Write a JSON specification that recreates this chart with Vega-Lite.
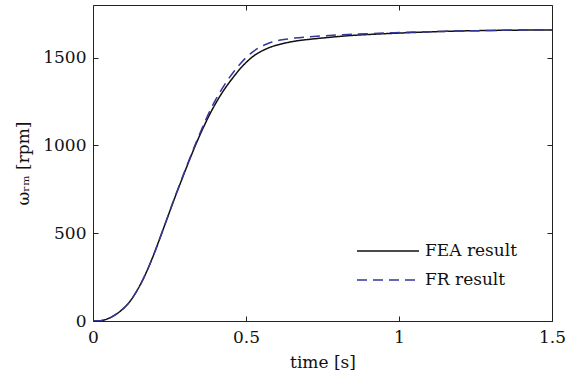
{
  "$schema": "https://vega.github.io/schema/vega-lite/v6.json",
  "autosize": {"type": "none"},
  "padding": {"left": 93, "top": 5, "right": 27, "bottom": 56},
  "width": 459,
  "height": 316,
  "background": "white",
  "config": {
    "view": {"stroke": "#222222", "strokeWidth": 1},
    "font": "DejaVu Serif",
    "axis": {"grid": false, "domain": false, "tickColor": "#222222", "tickSize": -5, "tickWidth": 1, "labelFont": "DejaVu Serif", "labelFontSize": 17, "labelColor": "#111111", "titleFont": "DejaVu Serif", "titleFontSize": 17, "titleFontWeight": "normal", "titleColor": "#111111"},
    "legend": {"labelFont": "DejaVu Serif", "labelFontSize": 17, "labelColor": "#111111"}
  },
  "datasets": {
    "curves": [
      {"t": 0.00, "rpm": 0, "series": "FEA result"},
      {"t": 0.02, "rpm": 1, "series": "FEA result"},
      {"t": 0.04, "rpm": 8, "series": "FEA result"},
      {"t": 0.06, "rpm": 22, "series": "FEA result"},
      {"t": 0.08, "rpm": 44, "series": "FEA result"},
      {"t": 0.10, "rpm": 72, "series": "FEA result"},
      {"t": 0.12, "rpm": 110, "series": "FEA result"},
      {"t": 0.14, "rpm": 162, "series": "FEA result"},
      {"t": 0.16, "rpm": 225, "series": "FEA result"},
      {"t": 0.18, "rpm": 300, "series": "FEA result"},
      {"t": 0.20, "rpm": 385, "series": "FEA result"},
      {"t": 0.22, "rpm": 478, "series": "FEA result"},
      {"t": 0.24, "rpm": 573, "series": "FEA result"},
      {"t": 0.26, "rpm": 668, "series": "FEA result"},
      {"t": 0.28, "rpm": 760, "series": "FEA result"},
      {"t": 0.30, "rpm": 850, "series": "FEA result"},
      {"t": 0.32, "rpm": 938, "series": "FEA result"},
      {"t": 0.34, "rpm": 1022, "series": "FEA result"},
      {"t": 0.36, "rpm": 1100, "series": "FEA result"},
      {"t": 0.38, "rpm": 1172, "series": "FEA result"},
      {"t": 0.40, "rpm": 1237, "series": "FEA result"},
      {"t": 0.42, "rpm": 1295, "series": "FEA result"},
      {"t": 0.44, "rpm": 1346, "series": "FEA result"},
      {"t": 0.46, "rpm": 1392, "series": "FEA result"},
      {"t": 0.48, "rpm": 1435, "series": "FEA result"},
      {"t": 0.50, "rpm": 1472, "series": "FEA result"},
      {"t": 0.52, "rpm": 1503, "series": "FEA result"},
      {"t": 0.54, "rpm": 1527, "series": "FEA result"},
      {"t": 0.56, "rpm": 1545, "series": "FEA result"},
      {"t": 0.58, "rpm": 1560, "series": "FEA result"},
      {"t": 0.60, "rpm": 1571, "series": "FEA result"},
      {"t": 0.63, "rpm": 1584, "series": "FEA result"},
      {"t": 0.66, "rpm": 1594, "series": "FEA result"},
      {"t": 0.70, "rpm": 1603, "series": "FEA result"},
      {"t": 0.75, "rpm": 1612, "series": "FEA result"},
      {"t": 0.80, "rpm": 1620, "series": "FEA result"},
      {"t": 0.85, "rpm": 1627, "series": "FEA result"},
      {"t": 0.90, "rpm": 1632, "series": "FEA result"},
      {"t": 1.00, "rpm": 1640, "series": "FEA result"},
      {"t": 1.10, "rpm": 1647, "series": "FEA result"},
      {"t": 1.20, "rpm": 1652, "series": "FEA result"},
      {"t": 1.30, "rpm": 1655, "series": "FEA result"},
      {"t": 1.40, "rpm": 1657, "series": "FEA result"},
      {"t": 1.50, "rpm": 1658, "series": "FEA result"},
      {"t": 0.00, "rpm": 0, "series": "FR result"},
      {"t": 0.02, "rpm": 1, "series": "FR result"},
      {"t": 0.04, "rpm": 8, "series": "FR result"},
      {"t": 0.06, "rpm": 22, "series": "FR result"},
      {"t": 0.08, "rpm": 44, "series": "FR result"},
      {"t": 0.10, "rpm": 72, "series": "FR result"},
      {"t": 0.12, "rpm": 110, "series": "FR result"},
      {"t": 0.14, "rpm": 162, "series": "FR result"},
      {"t": 0.16, "rpm": 225, "series": "FR result"},
      {"t": 0.18, "rpm": 300, "series": "FR result"},
      {"t": 0.20, "rpm": 385, "series": "FR result"},
      {"t": 0.22, "rpm": 478, "series": "FR result"},
      {"t": 0.24, "rpm": 574, "series": "FR result"},
      {"t": 0.26, "rpm": 670, "series": "FR result"},
      {"t": 0.28, "rpm": 763, "series": "FR result"},
      {"t": 0.30, "rpm": 855, "series": "FR result"},
      {"t": 0.32, "rpm": 944, "series": "FR result"},
      {"t": 0.34, "rpm": 1030, "series": "FR result"},
      {"t": 0.36, "rpm": 1112, "series": "FR result"},
      {"t": 0.38, "rpm": 1190, "series": "FR result"},
      {"t": 0.40, "rpm": 1258, "series": "FR result"},
      {"t": 0.42, "rpm": 1318, "series": "FR result"},
      {"t": 0.44, "rpm": 1372, "series": "FR result"},
      {"t": 0.46, "rpm": 1420, "series": "FR result"},
      {"t": 0.48, "rpm": 1463, "series": "FR result"},
      {"t": 0.50, "rpm": 1500, "series": "FR result"},
      {"t": 0.52, "rpm": 1530, "series": "FR result"},
      {"t": 0.54, "rpm": 1554, "series": "FR result"},
      {"t": 0.56, "rpm": 1572, "series": "FR result"},
      {"t": 0.58, "rpm": 1586, "series": "FR result"},
      {"t": 0.60, "rpm": 1596, "series": "FR result"},
      {"t": 0.63, "rpm": 1605, "series": "FR result"},
      {"t": 0.66, "rpm": 1612, "series": "FR result"},
      {"t": 0.70, "rpm": 1618, "series": "FR result"},
      {"t": 0.75, "rpm": 1624, "series": "FR result"},
      {"t": 0.80, "rpm": 1629, "series": "FR result"},
      {"t": 0.85, "rpm": 1633, "series": "FR result"},
      {"t": 0.90, "rpm": 1637, "series": "FR result"},
      {"t": 1.00, "rpm": 1643, "series": "FR result"},
      {"t": 1.10, "rpm": 1648, "series": "FR result"},
      {"t": 1.20, "rpm": 1652, "series": "FR result"},
      {"t": 1.30, "rpm": 1655, "series": "FR result"},
      {"t": 1.40, "rpm": 1658, "series": "FR result"},
      {"t": 1.50, "rpm": 1659, "series": "FR result"}
    ]
  },
  "data": {"name": "curves"},
  "layer": [
    {
      "mark": {"type": "line", "interpolate": "monotone", "strokeWidth": 1.5, "clip": true},
      "encoding": {
        "x": {"field": "t", "type": "quantitative", "scale": {"domain": [0, 1.5], "nice": false, "zero": false},
              "axis": {"orient": "bottom", "values": [0, 0.5, 1, 1.5], "format": "~g", "title": "time [s]", "labelPadding": 13, "titlePadding": 9, "labelFlush": false}},
        "y": {"field": "rpm", "type": "quantitative", "scale": {"domain": [0, 1800], "nice": false},
              "axis": {"orient": "left", "values": [0, 500, 1000, 1500], "format": "d", "title": "ωᵣₘ [rpm]", "labelPadding": 12, "titlePadding": 10, "labelFlush": false}},
        "color": {"field": "series", "type": "nominal",
                  "scale": {"domain": ["FEA result", "FR result"], "range": ["#111111", "#36379a"]},
                  "legend": {"title": null, "orient": "none", "legendX": 305, "legendY": 235, "symbolType": "M-5.2,0H1", "symbolSize": 400, "symbolStrokeWidth": 1.5, "labelOffset": 5, "rowPadding": 10, "padding": 0}},
        "strokeDash": {"field": "series", "type": "nominal",
                       "scale": {"domain": ["FEA result", "FR result"], "range": [[1, 0], [10, 6]]},
                       "legend": {"title": null, "orient": "none", "legendX": 305, "legendY": 235, "symbolType": "M-5.2,0H1", "symbolSize": 400, "symbolStrokeWidth": 1.5, "labelOffset": 5, "rowPadding": 10, "padding": 0}}
      }
    },
    {
      "mark": {"type": "point", "opacity": 0},
      "encoding": {
        "x": {"field": "t", "type": "quantitative", "axis": {"orient": "top", "values": [0, 0.5, 1, 1.5], "labels": false, "title": null}},
        "y": {"field": "rpm", "type": "quantitative", "axis": {"orient": "right", "values": [0, 500, 1000, 1500], "labels": false, "title": null}}
      }
    }
  ],
  "resolve": {"axis": {"x": "independent", "y": "independent"}}
}
